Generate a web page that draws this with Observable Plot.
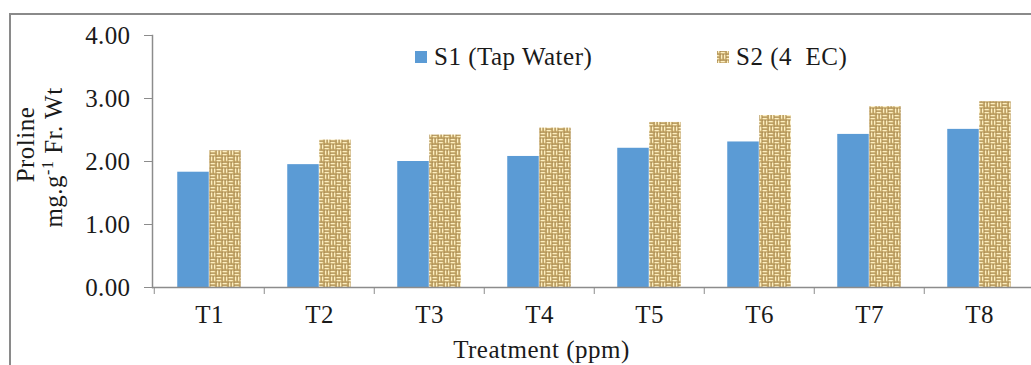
<!DOCTYPE html>
<html>
<head>
<meta charset="utf-8">
<script src="https://cdn.jsdelivr.net/npm/d3@7"></script>
<script src="https://cdn.jsdelivr.net/npm/@observablehq/plot@0.6"></script>
<style>
  html, body { margin: 0; padding: 0; background: #fff; overflow: hidden; }
  #wrap { position: relative; width: 1031px; height: 365px; overflow: hidden; font-family: "Liberation Serif", serif; }
  #frame { position: absolute; left: 9px; top: 13px; width: 1040px; height: 400px; border-top: 2px solid #8a8a8a; border-left: 2px solid #8a8a8a; box-sizing: border-box; }
  #chart { position: absolute; left: 0; top: 0; }
  #overlay { position: absolute; left: 0; top: 0; pointer-events: none; }
</style>
</head>
<body>
<div id="wrap">
  <div id="frame"></div>
  <div id="chart"></div>
  <svg id="overlay" width="1031" height="365"></svg>
</div>
<script>
// ---- data ----
const treatments = ["T1", "T2", "T3", "T4", "T5", "T6", "T7", "T8"];
const s1Values = [1.83, 1.95, 2.00, 2.08, 2.21, 2.31, 2.43, 2.51];
const s2Values = [2.17, 2.34, 2.42, 2.53, 2.62, 2.73, 2.87, 2.95];
const seriesNames = ["S1 (Tap Water)", "S2 (4  EC)"];
const yTicks = [0, 1, 2, 3, 4];
const yTitle = ["Proline", "mg.g", "-1", " Fr. Wt"];
const xTitle = "Treatment (ppm)";

const blue = "#5b9bd5";
const axisGray = "#8c8c8c";
const textColor = "#1a1a1a";
const fontStack = "'Liberation Serif', serif";

const d1 = treatments.map((t, i) => ({t, v: s1Values[i], s: seriesNames[0]}));
const d2 = treatments.map((t, i) => ({t, v: s2Values[i], s: seriesNames[1]}));

const W = 1031, H = 365;
const mLeft = 152, mRight = -5, mTop = 35, mBottom = 78;
const band = (W - mRight - mLeft) / treatments.length;
const barW = 32;
const outerInset = (band - 2 * barW) / 2;

const chart = Plot.plot({
  width: W,
  height: H,
  marginLeft: mLeft,
  marginRight: mRight,
  marginTop: mTop,
  marginBottom: mBottom,
  style: {fontFamily: fontStack, fontSize: "25px", color: textColor, background: "transparent", overflow: "visible"},
  x: {domain: treatments, paddingInner: 0, paddingOuter: 0},
  y: {domain: [0, 4]},
  marks: [
    Plot.barY(d1, {x: "t", y: "v", fill: blue, insetLeft: outerInset, insetRight: outerInset + barW}),
    Plot.barY(d2, {x: "t", y: "v", fill: "url(#burlap)", insetLeft: outerInset + barW, insetRight: outerInset}),
    Plot.frame({anchor: "left", stroke: axisGray, strokeWidth: 1.5}),
    Plot.ruleY([0], {stroke: axisGray, strokeWidth: 1.5}),
    Plot.axisY({ticks: yTicks, tickFormat: d3.format(".2f"), tickSize: 8, tickPadding: 14, stroke: axisGray, fill: textColor, label: null}),
    Plot.axisX({tickSize: 0, tickPadding: 18, fill: textColor, label: null}),
    Plot.axisX({tickSize: 7, tickFormat: () => "", dx: -band / 2, stroke: axisGray, label: null})
  ]
});
document.getElementById("chart").appendChild(chart);
const svgSel = d3.select(chart);
svgSel.style("letter-spacing", "0.4px");

// basketweave (burlap) pattern
const defs = svgSel.insert("defs", ":first-child");
const P = 12, h = P / 2;
const pat = defs.append("pattern")
  .attr("id", "burlap").attr("patternUnits", "userSpaceOnUse")
  .attr("width", P).attr("height", P);
pat.append("rect").attr("width", P).attr("height", P).attr("fill", "#8f6d34");
const strand = "#ecd59a", hi = "#fff2c6", shade = "#c9a965";
// quadrants: [x0, y0, horizontal?]
const quads = [[0, 0, true], [h, 0, false], [0, h, false], [h, h, true]];
for (const [qx, qy, horiz] of quads) {
  for (let k = 0; k < 2; k++) {
    const off = 0.5 + k * 3;
    if (horiz) {
      pat.append("rect").attr("x", qx + 0.3).attr("y", qy + off).attr("width", h - 0.6).attr("height", 2.2).attr("fill", strand);
      pat.append("rect").attr("x", qx + 0.8).attr("y", qy + off + 0.5).attr("width", h - 1.8).attr("height", 0.9).attr("fill", hi);
      pat.append("rect").attr("x", qx + h - 1.2).attr("y", qy + off).attr("width", 0.9).attr("height", 2.2).attr("fill", shade);
    } else {
      pat.append("rect").attr("x", qx + off).attr("y", qy + 0.3).attr("width", 2.2).attr("height", h - 0.6).attr("fill", strand);
      pat.append("rect").attr("x", qx + off + 0.5).attr("y", qy + 0.8).attr("width", 0.9).attr("height", h - 1.8).attr("fill", hi);
      pat.append("rect").attr("x", qx + off).attr("y", qy + h - 1.2).attr("width", 2.2).attr("height", 0.9).attr("fill", shade);
    }
  }
}

// overlay texts: legend and axis titles
const ov = d3.select("#overlay")
  .style("font-family", fontStack)
  .style("font-size", "25px")
  .style("letter-spacing", "0.5px")
  .attr("fill", textColor);

const legendItems = [
  {name: seriesNames[0], fill: blue, x: 415},
  {name: seriesNames[1], fill: "url(#burlap)", x: 717}
];
for (const it of legendItems) {
  ov.append("rect").attr("x", it.x).attr("y", 51).attr("width", 12).attr("height", 12).attr("fill", it.fill);
  ov.append("text").attr("x", it.x + 19).attr("y", 65).style("white-space", "pre").attr("xml:space", "preserve").text(it.name);
}

ov.append("text")
  .attr("transform", "translate(34,144.5) rotate(-90)")
  .attr("text-anchor", "middle")
  .text(yTitle[0]);
const t2 = ov.append("text")
  .attr("transform", "translate(62,157.5) rotate(-90)")
  .attr("text-anchor", "middle")
  .attr("xml:space", "preserve");
t2.append("tspan").text(yTitle[1]);
t2.append("tspan").attr("dy", -9).style("font-size", "16px").text(yTitle[2]);
t2.append("tspan").attr("dy", 9).text(yTitle[3]);

ov.append("text")
  .attr("x", 541.5).attr("y", 358)
  .attr("text-anchor", "middle")
  .text(xTitle);
</script>
</body>
</html>
